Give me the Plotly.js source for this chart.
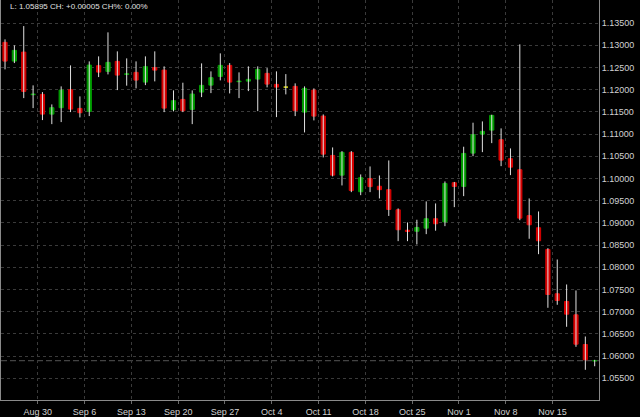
<!DOCTYPE html>
<html><head><meta charset="utf-8">
<script src="https://cdn.plot.ly/plotly-3.0.1.min.js"></script>
<style>html,body{margin:0;padding:0;background:#000;}#chart{width:640px;height:417px;}</style>
</head><body><div id="chart"></div>
<script>
const opens = [1.13066,1.12644,1.12847,1.11887,1.11894,1.11450,1.11594,1.12000,1.11578,1.11511,
1.12541,1.12412,1.12637,1.12344,1.12390,1.12171,1.12498,1.12441,1.11549,1.11781,
1.11556,1.11946,1.12103,1.12299,1.12547,1.12180,1.12193,1.12239,1.12367,1.12119,
1.12058,1.12074,1.11495,1.11991,1.11405,1.10519,1.10075,1.10587,1.09701,1.09996,
1.09825,1.09748,1.09295,1.08834,1.08811,1.08881,1.09093,1.09021,1.09904,1.09821,
1.10571,1.10999,1.11089,1.10873,1.10445,1.10197,1.09163,1.08890,1.08401,1.07403,
1.07229,1.06929,1.06260,1.05890];
const highs = [1.13133,1.12998,1.13433,1.12097,1.11946,1.11668,1.12074,1.12547,1.11849,1.12637,
1.12750,1.13291,1.12863,1.12705,1.12637,1.12750,1.12863,1.12525,1.11984,1.12157,
1.11984,1.12592,1.12412,1.12818,1.12599,1.12390,1.12525,1.12525,1.12486,1.12412,
1.12351,1.12142,1.12074,1.12029,1.11443,1.10699,1.10616,1.10616,1.10091,1.10271,
1.10068,1.10406,1.09325,1.09009,1.09070,1.09483,1.09437,1.09933,1.09922,1.10715,
1.11256,1.11285,1.11436,1.11128,1.10677,1.13021,1.09550,1.09257,1.08430,1.08175,
1.07612,1.07477,1.06440,1.05915];
const lows = [1.12457,1.12599,1.11810,1.11585,1.11315,1.11224,1.11270,1.11495,1.11375,1.11405,
1.12284,1.12344,1.11991,1.12090,1.12029,1.12103,1.12187,1.11495,1.11511,1.11495,
1.11224,1.11833,1.11923,1.12209,1.11916,1.11810,1.11968,1.11517,1.12052,1.11382,
1.11894,1.11405,1.11037,1.11308,1.10474,1.10046,1.09843,1.09692,1.09624,1.09692,
1.09550,1.09156,1.08588,1.08588,1.08514,1.08746,1.08824,1.08926,1.09354,1.09602,
1.10503,1.10593,1.10796,1.10278,1.10075,1.09059,1.08642,1.08295,1.07087,1.07155,
1.06659,1.06208,1.05690,1.05771];
const closes = [1.12644,1.12885,1.11961,1.11901,1.11450,1.11594,1.11991,1.11562,1.11481,1.12554,
1.12396,1.12615,1.12329,1.12358,1.12216,1.12518,1.12441,1.11585,1.11752,1.11526,
1.11901,1.12097,1.12270,1.12547,1.12171,1.12193,1.12232,1.12457,1.12126,1.12058,
1.12058,1.11526,1.12029,1.11405,1.10548,1.10075,1.10587,1.09730,1.10017,1.09816,
1.09748,1.09302,1.08845,1.08806,1.08897,1.09093,1.08980,1.09888,1.09821,1.10564,
1.10986,1.11060,1.11421,1.10413,1.10255,1.09106,1.08957,1.08597,1.07387,1.07252,
1.06943,1.06267,1.05915,1.05895];
const weekLabels = ['Aug 30','Sep 6','Sep 13','Sep 20','Sep 27','Oct 4','Oct 11','Oct 18','Oct 25','Nov 1','Nov 8','Nov 15'];
const headerText = 'L: 1.05895 CH: +0.00005 CH%: 0.00%';

const n = closes.length;
const idx = closes.map((_, i) => i);
const wx = [], wy = [];
for (let i = 0; i < n; i++) { wx.push(i, i, null); wy.push(lows[i], highs[i], null); }
const base = idx.map(i => Math.min(opens[i], closes[i]));
const len = idx.map(i => Math.abs(closes[i] - opens[i]));
const cols = idx.map(i => closes[i] > opens[i] ? '#009e00' : (closes[i] < opens[i] ? '#d80000' : '#e6e600'));
const firstMonday = 3.5;
const tickvals = weekLabels.map((_, k) => firstMonday + 5 * k);

const traces = [
  {type: 'scatter', mode: 'lines', x: wx, y: wy, line: {color: '#e0e0e0', width: 1}, hoverinfo: 'skip', showlegend: false},
  {type: 'bar', x: idx, y: len, base: base, width: 0.45, marker: {color: cols, line: {color: cols, width: 1}}, hoverinfo: 'skip', showlegend: false}
];

const layout = {
  width: 640, height: 417,
  margin: {l: 1, r: 41, t: 0, b: 17, pad: 0},
  paper_bgcolor: '#000', plot_bgcolor: '#000',
  font: {family: 'Liberation Sans, Arial, sans-serif', size: 9, color: '#d2d2d2'},
  showlegend: false,
  bargap: 0,
  xaxis: {
    range: [-0.43, 63.46], tickmode: 'array', tickvals: tickvals, ticktext: weekLabels,
    showgrid: true, gridcolor: '#3a3a3a', griddash: 'dot', gridwidth: 1,
    zeroline: false, showline: true, linecolor: '#8a8a8a', linewidth: 1,
    ticks: 'outside', ticklen: 3, tickcolor: '#6a6a6a',
    tickfont: {family: 'Liberation Sans, Arial, sans-serif', size: 9, color: '#d2d2d2'}
  },
  yaxis: {
    side: 'right', range: [1.0501, 1.1402], tick0: 1.055, dtick: 0.005, tickformat: '.5f',
    showgrid: true, gridcolor: '#3a3a3a', griddash: 'dot', gridwidth: 1,
    zeroline: false, showline: true, mirror: true, linecolor: '#8a8a8a', linewidth: 1,
    ticks: '',
    tickfont: {family: 'Liberation Sans, Arial, sans-serif', size: 9, color: '#d2d2d2'}
  },
  shapes: [{type: 'line', xref: 'paper', x0: 0, x1: 1, yref: 'y', y0: closes[n-1], y1: closes[n-1],
            line: {color: '#555555', width: 1, dash: '6px,3px'}, layer: 'below'}],
  annotations: [{text: headerText, xref: 'paper', yref: 'paper', x: 0.012, y: 0.985, xanchor: 'left', yanchor: 'middle',
                 showarrow: false, font: {family: 'Liberation Sans, Arial, sans-serif', size: 8, color: '#e0e0e0'}}]
};
Plotly.newPlot('chart', traces, layout, {staticPlot: true, displayModeBar: false});
</script></body></html>
